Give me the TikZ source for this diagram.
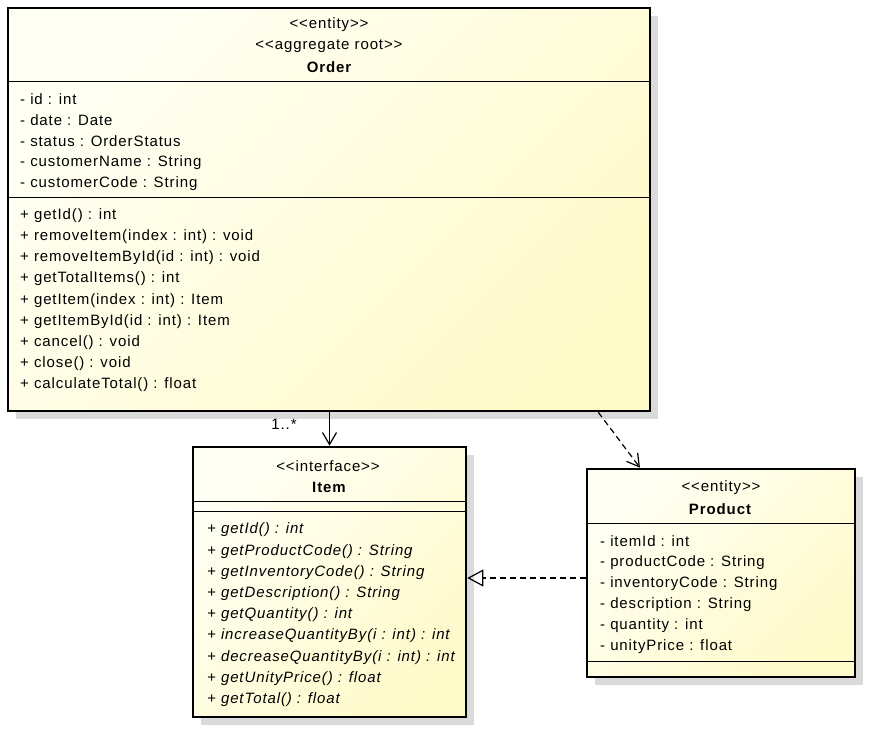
\documentclass[tikz,border=0pt]{standalone}
\usepackage{fontspec}
\setmainfont{Liberation Sans}[LetterSpace=6, Ligatures=TeXOff]
\usetikzlibrary{shadows,arrows.meta}
\definecolor{umltop}{RGB}{255,255,244}
\definecolor{umlbot}{RGB}{255,250,202}
\definecolor{umlshadow}{RGB}{218,218,218}

\begin{document}
\begin{tikzpicture}[x=1pt,y=-1pt,
    every node/.style={font=\fontsize{15}{18}\selectfont},
    classbox/.style={draw, line width=2.6pt, inner sep=0pt,
      top color=umltop, bottom color=umlbot, shading angle=45,
      drop shadow={shadow xshift=8pt, shadow yshift=-8pt, fill=umlshadow, opacity=1}},
    member/.style={anchor=west, inner sep=0pt},
    title/.style={inner sep=0pt},
    sep/.style={line width=1pt},
    assoc/.style={line width=1.2pt, -{Straight Barb[length=12pt,width=14pt]}},
    depend/.style={assoc, dash pattern=on 6pt off 4pt},
    realize/.style={line width=1.2pt, dash pattern=on 6pt off 4pt, -{Triangle[open,length=16pt,width=17pt]}}]
  \useasboundingbox (0,0) rectangle (872,734);

  \node[classbox, minimum width=642pt, minimum height=403pt] (order) at (329,209.5) {};
  \node[title] (order1) at (329,25) {<<entity>>};
  \node[title] (order2) at (329,46) {<<aggregate root>>};
  \node[title, font=\fontsize{15}{18}\selectfont\bfseries] (order3) at (329,67) {Order};
  \draw[sep] (order.west |- 0,81) -- (order.east |- 0,81);
  \draw[sep] (order.west |- 0,197) -- (order.east |- 0,197);
  \foreach \txt [count=\i] in {{- id : int}, {- date : Date}, {- status : OrderStatus},
      {- customerName : String}, {- customerCode : String}}
    \node[member] (orderattr\i) at (20,{99+21.2*(\i-1)}) {\txt};
  \foreach \txt [count=\i] in {{+ getId() : int}, {+ removeItem(index : int) : void},
      {+ removeItemById(id : int) : void}, {+ getTotalItems() : int},
      {+ getItem(index : int) : Item}, {+ getItemById(id : int) : Item},
      {+ cancel() : void}, {+ close() : void}, {+ calculateTotal() : float}}
    \node[member] (orderop\i) at (20,{215.5+21.2*(\i-1)}) {\txt};

  \node[classbox, minimum width=273pt, minimum height=270pt] (item) at (329.5,582) {};
  \node[title] (item1) at (328,466) {<<interface>>};
  \node[title, font=\fontsize{15}{18}\selectfont\bfseries] (item2) at (329,487) {Item};
  \draw[sep] (item.west |- 0,501) -- (item.east |- 0,501);
  \draw[sep] (item.west |- 0,511) -- (item.east |- 0,511);
  \foreach \txt [count=\i] in {{getId() : int}, {getProductCode() : String},
      {getInventoryCode() : String}, {getDescription() : String},
      {getQuantity() : int}, {increaseQuantityBy(i : int) : int},
      {decreaseQuantityBy(i : int) : int}, {getUnityPrice() : float},
      {getTotal() : float}}
    \node[member] (itemop\i) at (207,{530+21.2*(\i-1)}) {\itshape + \txt};

  \node[classbox, minimum width=268pt, minimum height=208pt] (product) at (721,573) {};
  \node[title] (product1) at (721,488) {<<entity>>};
  \node[title, font=\fontsize{15}{18}\selectfont\bfseries] (product2) at (720,509) {Product};
  \draw[sep] (product.west |- 0,523) -- (product.east |- 0,523);
  \draw[sep] (product.west |- 0,661) -- (product.east |- 0,661);
  \foreach \txt [count=\i] in {{- itemId : int}, {- productCode : String},
      {- inventoryCode : String}, {- description : String},
      {- quantity : int}, {- unityPrice : float}}
    \node[member] (productattr\i) at (600,{541+21.2*(\i-1)}) {\txt};

  \draw[assoc] (order.south -| item.north) -- (item.north);
  \node[title] (mult) at (284,424) {1..*};
  \draw[depend] ([xshift=-53pt]order.south east) -- ([xshift=-81pt]product.north);
  \draw[realize] ([yshift=-5pt]product.west) -- ([yshift=-5pt]product.west -| item.east);
\end{tikzpicture}
\end{document}
